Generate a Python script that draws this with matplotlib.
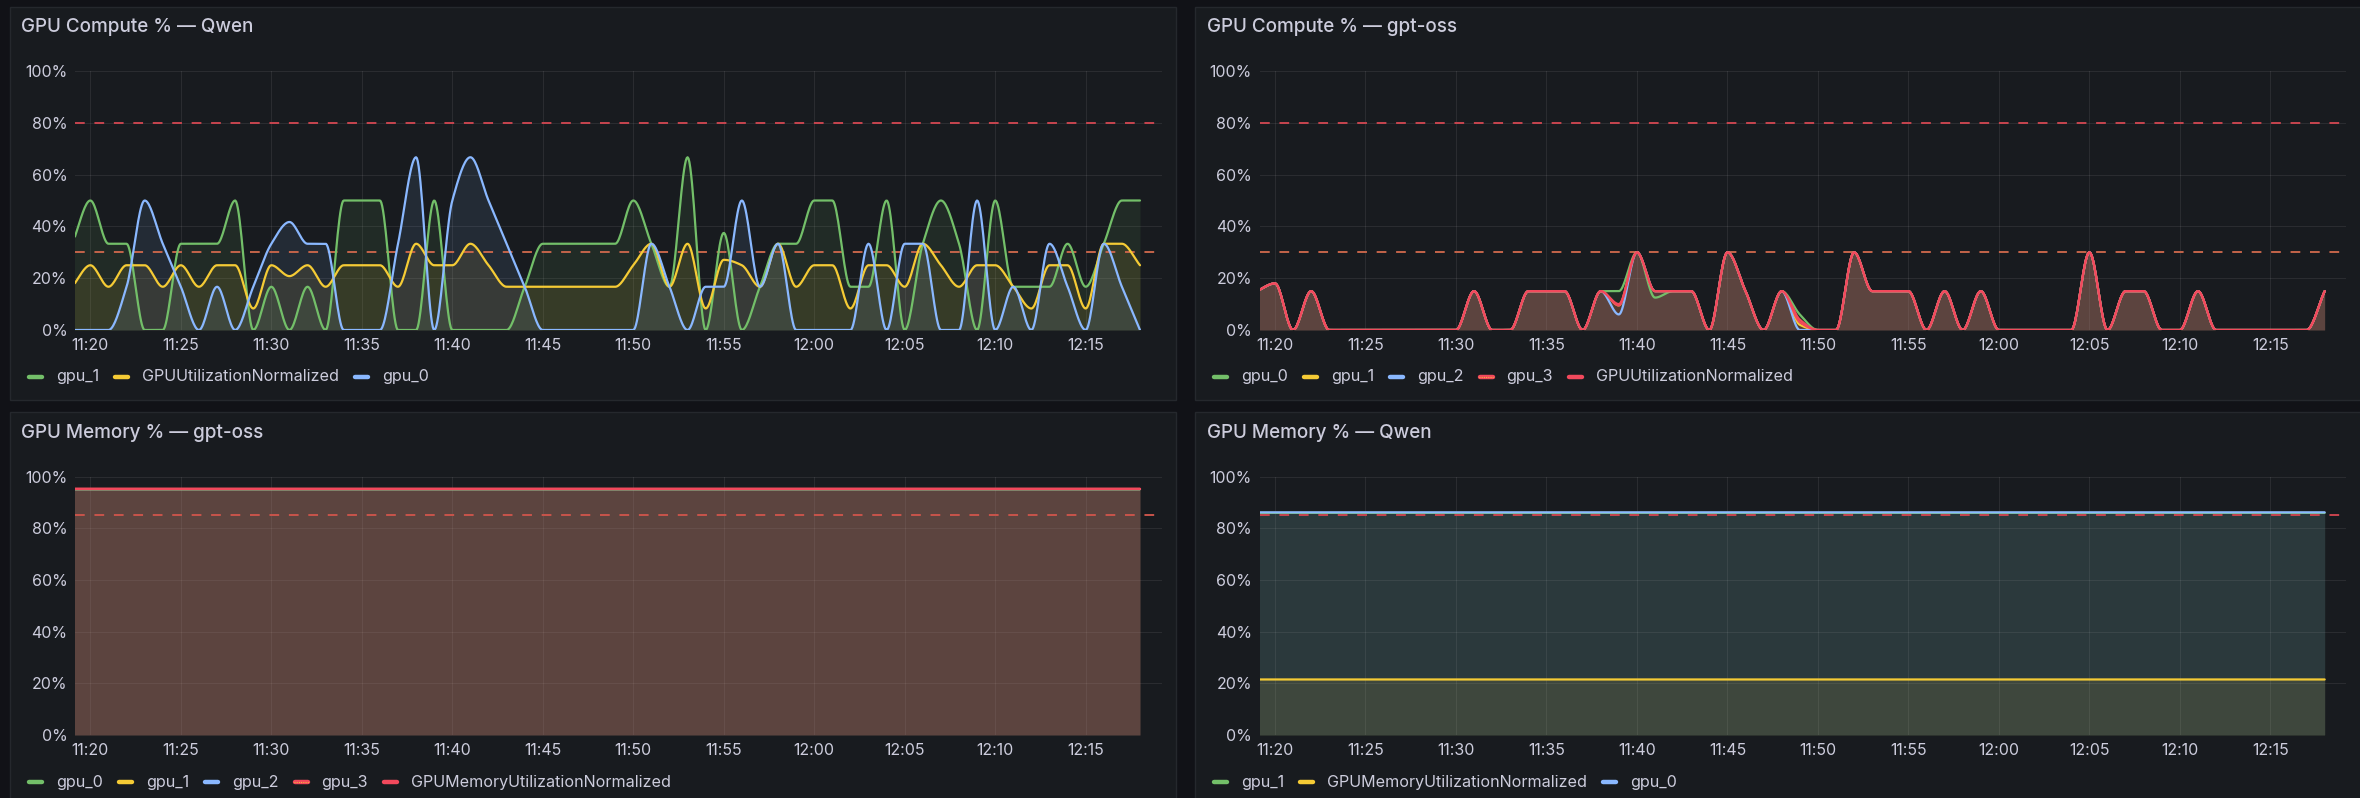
import numpy as np
import matplotlib
matplotlib.use("Agg")
import matplotlib.pyplot as plt
from matplotlib.lines import Line2D
from matplotlib.patches import Rectangle

# ---------------- data ----------------
# sample times: minutes after 11:00 (11:19 ... 12:18, one per minute)
minutes = list(range(19, 79))
xtick_pos = [20, 25, 30, 35, 40, 45, 50, 55, 60, 65, 70, 75]
xtick_labels = ["11:20", "11:25", "11:30", "11:35", "11:40", "11:45",
                "11:50", "11:55", "12:00", "12:05", "12:10", "12:15"]
ytick_pos = [0, 20, 40, 60, 80, 100]
ytick_labels = ["0%", "20%", "40%", "60%", "80%", "100%"]

# Panel 1: GPU Compute % - Qwen
qwen_gpu1 = [33.3, 50, 33.3, 33.3, 0, 0, 33.3, 33.3, 33.3, 50,
             0, 16.7, 0, 16.7, 0, 50, 50, 50, 0, 0,
             50, 0, 0, 0, 0, 16.7, 33.3, 33.3, 33.3, 33.3,
             33.3, 50, 33.3, 16.7, 66.7, 0, 37.5, 0, 16.7, 33.3,
             33.3, 50, 50, 16.7, 16.7, 50, 0, 33.3, 50, 33.3,
             0, 50, 16.7, 16.7, 16.7, 33.3, 16.7, 33.3, 50, 50]
qwen_norm = [16.7, 25, 16.7, 25, 25, 16.7, 25, 16.7, 25, 25,
             8.3, 25, 20.8, 25, 16.7, 25, 25, 25, 16.7, 33.3,
             25, 25, 33.3, 25, 16.7, 16.7, 16.7, 16.7, 16.7, 16.7,
             16.7, 25, 33.3, 16.7, 33.3, 8.3, 27.1, 25, 16.7, 33.3,
             16.7, 25, 25, 8.3, 25, 25, 16.7, 33.3, 25, 16.7,
             25, 25, 16.7, 8.3, 25, 25, 8.3, 33.3, 33.3, 25]
qwen_gpu0 = [0, 0, 0, 16.7, 50, 33.3, 16.7, 0, 16.7, 0,
             16.7, 33.3, 41.7, 33.3, 33.3, 0, 0, 0, 33.3, 66.7,
             0, 50, 66.7, 50, 33.3, 16.7, 0, 0, 0, 0,
             0, 0, 33.3, 16.7, 0, 16.7, 16.7, 50, 16.7, 33.3,
             0, 0, 0, 0, 33.3, 0, 33.3, 33.3, 0, 0,
             50, 0, 16.7, 0, 33.3, 16.7, 0, 33.3, 16.7, 0]

# Panel 2: GPU Compute % - gpt-oss
oss_norm = [15, 18, 0, 15, 0, 0, 0, 0, 0, 0,
            0, 0, 15, 0, 0, 15, 15, 15, 0, 15,
            10, 30, 15, 15, 15, 0, 30, 15, 0, 15,
            3, 0, 0, 30, 15, 15, 15, 0, 15, 0,
            15, 0, 0, 0, 0, 0, 30, 0, 15, 15,
            0, 0, 15, 0, 0, 0, 0, 0, 0, 15]
oss_gpu0 = [15, 18, 0, 15, 0, 0, 0, 0, 0, 0,
            0, 0, 15, 0, 0, 15, 15, 15, 0, 15,
            15, 30, 12.5, 15, 15, 0, 30, 15, 0, 15,
            6, 0, 0, 30, 15, 15, 15, 0, 15, 0,
            15, 0, 0, 0, 0, 0, 30, 0, 15, 15,
            0, 0, 15, 0, 0, 0, 0, 0, 0, 15]
oss_gpu1 = [15, 18, 0, 15, 0, 0, 0, 0, 0, 0,
            0, 0, 15, 0, 0, 15, 15, 15, 0, 15,
            9.5, 30, 15, 15, 15, 0, 30, 15, 0, 15,
            2, 0, 0, 30, 15, 15, 15, 0, 15, 0,
            15, 0, 0, 0, 0, 0, 30, 0, 15, 15,
            0, 0, 15, 0, 0, 0, 0, 0, 0, 15]
oss_gpu2 = [15, 18, 0, 15, 0, 0, 0, 0, 0, 0,
            0, 0, 15, 0, 0, 15, 15, 15, 0, 15,
            6, 30, 15, 15, 15, 0, 30, 15, 0, 15,
            0, 0, 0, 30, 15, 15, 15, 0, 15, 0,
            15, 0, 0, 0, 0, 0, 30, 0, 15, 15,
            0, 0, 15, 0, 0, 0, 0, 0, 0, 15]
oss_gpu3 = [15, 18, 0, 15, 0, 0, 0, 0, 0, 0,
            0, 0, 15, 0, 0, 15, 15, 15, 0, 15,
            9.5, 30, 15, 15, 15, 0, 30, 15, 0, 15,
            4, 0, 0, 30, 15, 15, 15, 0, 15, 0,
            15, 0, 0, 0, 0, 0, 30, 0, 15, 15,
            0, 0, 15, 0, 0, 0, 0, 0, 0, 15]

# Panel 3: GPU Memory % - gpt-oss (flat)
oss_mem_gpu0 = [95.2] * 60
oss_mem_gpu1 = [95.2] * 60
oss_mem_gpu2 = [95.2] * 60
oss_mem_gpu3 = [95.3] * 60
oss_mem_norm = [95.3] * 60

# Panel 4: GPU Memory % - Qwen (flat)
qwen_mem_gpu1 = [86.0] * 60
qwen_mem_norm = [21.5] * 60
qwen_mem_gpu0 = [86.2] * 60

compute_thresholds = [80, 30]
memory_thresholds = [85]

# ---------------- style ----------------
W, H = 2360, 798
BG = "#111217"
PANEL = "#181b1f"
BORDER = "#25282d"
TXT = "#ccccdc"
GREEN, YELLOW, BLUE, RED = "#73BF69", "#F5CB35", "#8AB8FF", "#F2495C"
FONT = ["Inter", "DejaVu Sans"]
plt.rcParams["font.family"] = FONT


def monotone(x, y, xs):
    x = np.asarray(x, float)
    y = np.asarray(y, float)
    h = np.diff(x)
    d = np.diff(y) / h
    m = np.zeros_like(y)
    m[0] = d[0]
    m[-1] = d[-1]
    for k in range(1, len(y) - 1):
        if d[k - 1] * d[k] <= 0:
            m[k] = 0.0
        else:
            w1 = 2 * h[k] + h[k - 1]
            w2 = h[k] + 2 * h[k - 1]
            m[k] = (w1 + w2) / (w1 / d[k - 1] + w2 / d[k])
    idx = np.clip(np.searchsorted(x, xs, side="right") - 1, 0, len(x) - 2)
    t = (xs - x[idx]) / h[idx]
    h00 = 2 * t**3 - 3 * t**2 + 1
    h10 = t**3 - 2 * t**2 + t
    h01 = -2 * t**3 + 3 * t**2
    h11 = t**3 - t**2
    return h00 * y[idx] + h10 * h[idx] * m[idx] + h01 * y[idx + 1] + h11 * h[idx] * m[idx + 1]


fig = plt.figure(figsize=(W / 100, H / 100), dpi=100, facecolor=BG)
renderer = fig.canvas.get_renderer()


def fit_size(text, target_px, weight="normal", base=10.0):
    t = fig.text(0, 0, text, fontsize=base, fontweight=weight)
    w = t.get_window_extent(renderer=renderer).width
    t.remove()
    return base * target_px / w


TITLE_FS = fit_size("GPU Compute % \u2014 Qwen", 233, "medium")
LEGEND_FS = fit_size("GPUUtilizationNormalized", 198)
TICK_FS = 0.5 * (fit_size("100%", 42) + fit_size("11:20", 38))


def fx(px):
    return px / W


def fy(py):
    return 1 - py / H


def panel_box(x0, y0, x1, y1):
    fig.add_artist(Rectangle((fx(x0), fy(y1)), fx(x1) - fx(x0), fy(y0) - fy(y1),
                             transform=fig.transFigure, facecolor=PANEL,
                             edgecolor=BORDER, linewidth=1.0, zorder=0))


def make_ax(x0, y0, x1, y1):
    ax = fig.add_axes([fx(x0), fy(y1), fx(x1) - fx(x0), fy(y0) - fy(y1)])
    ax.set_facecolor("none")
    ax.set_xlim(19.15, 79.2)
    ax.set_ylim(0, 100)
    ax.set_xticks(xtick_pos)
    ax.set_xticklabels(xtick_labels)
    ax.set_yticks(ytick_pos)
    ax.set_yticklabels(ytick_labels)
    ax.tick_params(axis="both", length=0, colors=TXT, labelsize=TICK_FS)
    ax.tick_params(axis="x", pad=6.0)
    ax.tick_params(axis="y", pad=5.5)
    for s in ax.spines.values():
        s.set_visible(False)
    ax.grid(True, color="#ffffff", alpha=0.08, linewidth=0.75)
    ax.set_axisbelow(True)
    return ax


def draw_series(ax, series, alpha=0.1):
    xs = np.linspace(minutes[0], minutes[-1], 1200)
    for i, (vals, col) in enumerate(series):
        ys = monotone(minutes, vals, xs)
        ax.fill_between(xs, 0, ys, color=col, alpha=alpha, linewidth=0, zorder=1)
        ax.plot(xs, ys, color=col, linewidth=1.6, zorder=3 + i,
                solid_capstyle="round", solid_joinstyle="round")


def draw_thresholds(ax, levels, colors):
    for lv, c in zip(levels, colors):
        ax.axhline(lv, color=c, linewidth=1.4, dashes=(5, 5), zorder=2)


def title(x, y, s):
    fig.text(fx(x), fy(y), s, ha="left", va="center", fontsize=TITLE_FS,
             color=TXT, fontweight="medium")


def legend(x, y, items):
    cur = x
    for label, col, dotted in items:
        fig.add_artist(Line2D([fx(cur + 2), fx(cur + 15)], [fy(y), fy(y)],
                              transform=fig.transFigure, color=col, linewidth=3.2,
                              solid_capstyle="round"))
        if dotted:
            fig.add_artist(Line2D([fx(cur + 1), fx(cur + 16)], [fy(y), fy(y)],
                                  transform=fig.transFigure, color=YELLOW, linewidth=0.8,
                                  linestyle=(0, (0.8, 1.2))))
        t = fig.text(fx(cur + 29), fy(y), label, ha="left", va="center",
                     fontsize=LEGEND_FS, color=TXT)
        w = t.get_window_extent(renderer=renderer).width
        cur = cur + 29 + w + 14


# panels
panel_box(9.5, 7, 1176, 400)
panel_box(1194.5, 7, 2370, 400)
panel_box(9.5, 411.7, 1176, 810)
panel_box(1194.5, 411.7, 2370, 810)

# Panel 1
ax1 = make_ax(75, 71, 1161.7, 330)
draw_series(ax1, [(qwen_gpu1, GREEN), (qwen_norm, YELLOW), (qwen_gpu0, BLUE)])
draw_thresholds(ax1, compute_thresholds, ["#C7454F", "#C4644A"])
title(21, 27, "GPU Compute % \u2014 Qwen")
legend(27, 377, [("gpu_1", GREEN, False), ("GPUUtilizationNormalized", YELLOW, False),
                 ("gpu_0", BLUE, False)])

# Panel 2
ax2 = make_ax(1259.6, 71, 2346.4, 330)
draw_series(ax2, [(oss_gpu0, GREEN), (oss_gpu1, YELLOW), (oss_gpu2, BLUE),
                  (oss_gpu3, RED), (oss_norm, RED)], alpha=0.095)
draw_thresholds(ax2, compute_thresholds, ["#C7454F", "#C4644A"])
title(1207, 27, "GPU Compute % \u2014 gpt-oss")
legend(1212, 377, [("gpu_0", GREEN, False), ("gpu_1", YELLOW, False),
                   ("gpu_2", BLUE, False), ("gpu_3", RED, True),
                   ("GPUUtilizationNormalized", RED, False)])

# Panel 3
ax3 = make_ax(75, 476.7, 1161.7, 735)
draw_series(ax3, [(oss_mem_gpu0, GREEN), (oss_mem_gpu1, YELLOW), (oss_mem_gpu2, BLUE),
                  (oss_mem_gpu3, RED), (oss_mem_norm, RED)], alpha=0.095)
draw_thresholds(ax3, memory_thresholds, ["#C8544B"])
title(21, 433, "GPU Memory % \u2014 gpt-oss")
legend(27, 782, [("gpu_0", GREEN, False), ("gpu_1", YELLOW, False),
                 ("gpu_2", BLUE, False), ("gpu_3", RED, True),
                 ("GPUMemoryUtilizationNormalized", RED, False)])

# Panel 4
ax4 = make_ax(1259.6, 476.7, 2346.4, 735)
draw_series(ax4, [(qwen_mem_gpu1, GREEN), (qwen_mem_norm, YELLOW), (qwen_mem_gpu0, BLUE)])
draw_thresholds(ax4, memory_thresholds, ["#C8444E"])
title(1207, 433, "GPU Memory % \u2014 Qwen")
legend(1212, 782, [("gpu_1", GREEN, False), ("GPUMemoryUtilizationNormalized", YELLOW, False),
                   ("gpu_0", BLUE, False)])

fig.savefig("out.png", dpi=100, facecolor=BG)
